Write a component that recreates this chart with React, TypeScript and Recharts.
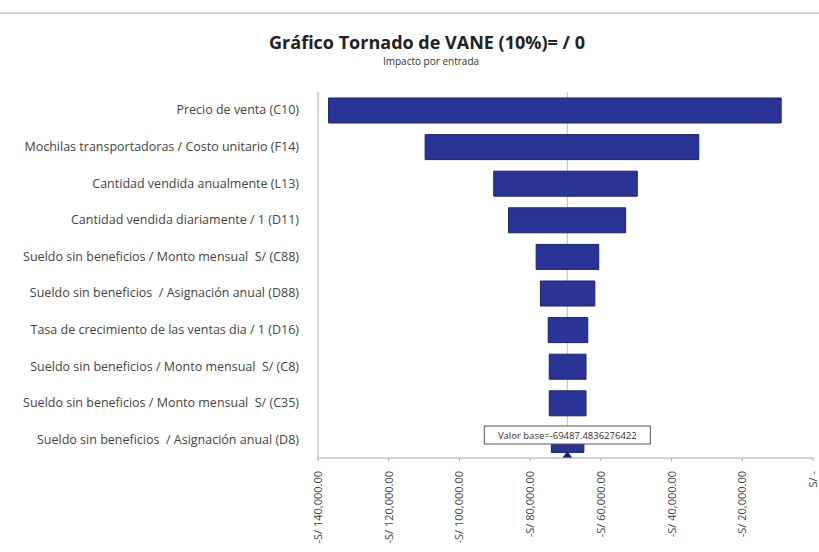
import { Bar, BarChart, ReferenceLine, XAxis, YAxis } from "recharts";

const inputs = [
  "Precio de venta (C10)",
  "Mochilas transportadoras / Costo unitario (F14)",
  "Cantidad vendida anualmente (L13)",
  "Cantidad vendida diariamente / 1 (D11)",
  "Sueldo sin beneficios / Monto mensual  S/ (C88)",
  "Sueldo sin beneficios  / Asignación anual (D88)",
  "Tasa de crecimiento de las ventas dia / 1 (D16)",
  "Sueldo sin beneficios / Monto mensual  S/ (C8)",
  "Sueldo sin beneficios / Monto mensual  S/ (C35)",
  "Sueldo sin beneficios  / Asignación anual (D8)",
];

const lowValues = [-137000, -109700, -90300, -86100, -78300, -77100, -74900, -74600, -74600, -74000];
const highValues = [-9000, -32300, -49700, -53000, -60600, -61700, -63700, -64200, -64200, -64800];

const xTicks = [-140000, -120000, -100000, -80000, -60000, -40000, -20000, 0];
const baseValue = -69487.4836276422;

const chartData = inputs.map((name, i) => ({
  name,
  range: [lowValues[i], highValues[i]],
}));

const money = (v: number) =>
  v === 0
    ? "S/ -"
    : "-S/ " +
      Math.abs(v).toLocaleString("en-US", { minimumFractionDigits: 2, maximumFractionDigits: 2 });

const font = "'Open Sans', 'Liberation Sans', Arial, sans-serif";

function XTick({ x, y, payload }: any) {
  return (
    <g transform={`translate(${x},${y})`}>
      <text
        transform="rotate(-90)"
        x={-8}
        dy={4}
        textAnchor="end"
        fontSize={11}
        fontFamily={font}
        fill="#444"
      >
        {money(payload.value)}
      </text>
    </g>
  );
}

function YTick({ x, y, payload }: any) {
  return (
    <text
      x={x - 11}
      y={y}
      dy={4}
      textAnchor="end"
      fontSize={12.5}
      fontFamily={font}
      fill="#444"
      style={{ whiteSpace: "pre" }}
    >
      {payload.value}
    </text>
  );
}

function BaseLabel({ viewBox }: any) {
  const cx = viewBox.x;
  const bottom = viewBox.y + viewBox.height;
  const text = "Valor base=" + baseValue.toString();
  return (
    <g>
      <rect x={cx - 83} y={bottom - 32} width={166} height={18} fill="#fff" stroke="#555" />
      <text x={cx} y={bottom - 19} textAnchor="middle" fontSize={9.5} fontFamily={font} fill="#333">
        {text}
      </text>
      <path d={`M${cx - 5},${bottom} L${cx + 5},${bottom} L${cx},${bottom - 7} Z`} fill="#1c2270" />
    </g>
  );
}

export default function App() {
  return (
    <div style={{ position: "absolute", left: 0, top: 0, width: 819, height: 552, background: "#fff" }}>
      <div style={{ position: "absolute", left: 0, top: 12, width: 819, height: 2, background: "#d4d4d4" }} />
      <div
        style={{
          position: "absolute",
          left: 0,
          width: 854,
          top: 30,
          textAlign: "center",
          fontFamily: font,
          fontWeight: "bold",
          fontSize: 18,
          color: "#222",
        }}
      >
        Gráfico Tornado de VANE (10%)= / 0
      </div>
      <div
        style={{
          position: "absolute",
          left: 0,
          width: 862,
          top: 54,
          textAlign: "center",
          fontFamily: font,
          fontSize: 10,
          color: "#333",
        }}
      >
        Impacto por entrada
      </div>
      <div style={{ position: "absolute", left: 0, top: 0 }}>
        <BarChart
          width={819}
          height={552}
          layout="vertical"
          data={chartData}
          margin={{ top: 92, right: 6, left: 0, bottom: 0 }}
          barCategoryGap={6}
        >
          <XAxis
            type="number"
            domain={[-140000, 0]}
            ticks={xTicks}
            height={94}
            tick={<XTick />}
            tickSize={3}
            stroke="#aaa"
            interval={0}
          />
          <YAxis
            type="category"
            dataKey="name"
            width={318}
            tick={<YTick />}
            tickLine={false}
            stroke="#aaa"
            interval={0}
          />
          <ReferenceLine x={baseValue} stroke="#a9bde0" strokeWidth={1} zIndex={0} />
          <Bar dataKey="range" fill="#2a3496" stroke="#1c2270" strokeWidth={1} isAnimationActive={false} />
          <ReferenceLine x={baseValue} stroke="none" label={<BaseLabel />} />
        </BarChart>
      </div>
    </div>
  );
}
